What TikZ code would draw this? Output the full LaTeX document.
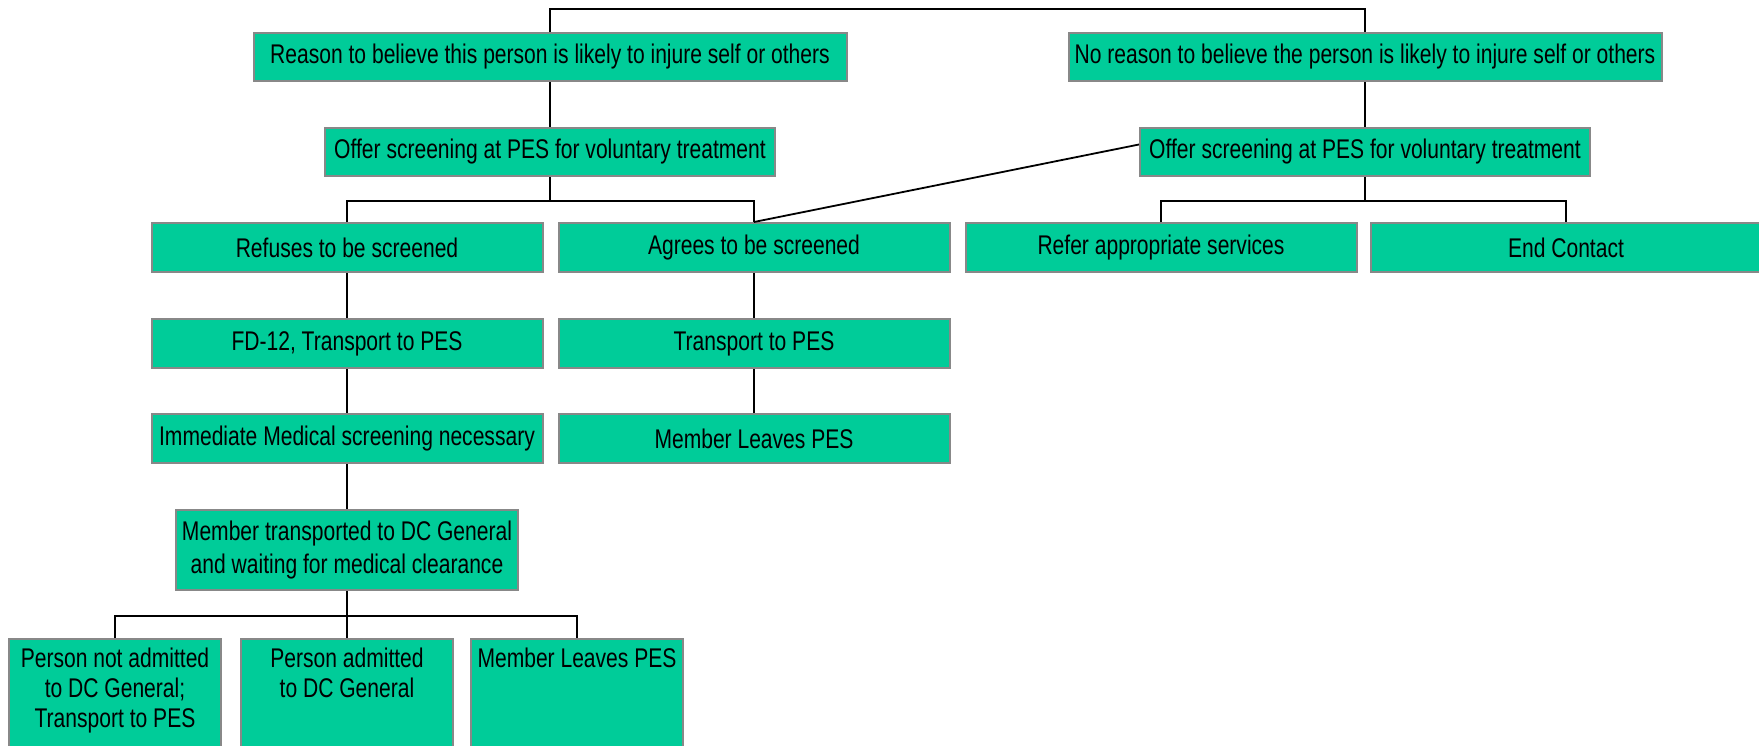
\documentclass[tikz,border=0pt]{standalone}
\usepackage{fontspec}
\setmainfont[FakeStretch=0.78]{Liberation Sans}
\usetikzlibrary{calc}
\definecolor{boxgreen}{RGB}{0,204,153}
\definecolor{boxedge}{RGB}{136,136,136}
\begin{document}
\begin{tikzpicture}[x=1pt,y=-1pt,
  box/.style={draw=boxedge, line width=2pt, fill=boxgreen, inner sep=0pt,
    font=\fontsize{27}{33}\selectfont, align=center},
  wide/.style={box, minimum width=593, minimum height=48},
  offer/.style={box, minimum width=450, minimum height=48},
  mid/.style={box, minimum width=391, minimum height=49},
  low/.style={box, minimum width=212, minimum height=125, anchor=north},
  lowtxt/.style={inner sep=0pt, anchor=north, align=center, font=\fontsize{27}{30}\selectfont},
  conn/.style={draw=black, line width=1.8pt}]
\useasboundingbox (0,0) rectangle (1759,745);
\clip (0,0) rectangle (1759,745);

% row 1
\node[wide] (r1) at (550,57) {Reason to believe this person is likely to injure self or others};
\node[wide] (n1) at (1365,57) {No reason to believe the person is likely to injure self or others};
% row 2
\node[offer] (oL) at (550,152) {Offer screening at PES for voluntary treatment};
\node[offer] (oR) at (1365,152) {Offer screening at PES for voluntary treatment};
% row 3
\node[mid] (ref) at (347,247.5) {Refuses to be screened};
\node[mid] (agr) at (754,247.5) {Agrees to be screened};
\node[mid] (refer) at (1161,247.5) {Refer appropriate services};
\node[mid] (endc) at (1566,247.5) {End Contact};
% row 4
\node[mid] (fd) at (347,343.5) {FD-12, Transport to PES};
\node[mid] (tr) at (754,343.5) {Transport to PES};
% row 5
\node[mid] (imm) at (347,438.5) {Immediate Medical screening necessary};
\node[mid] (mlp) at (754,438.5) {Member Leaves PES};
% row 6
\node[box, minimum width=342, minimum height=80] (mt) at (347,550) {Member transported to DC General\\and waiting for medical clearance};
% row 7
\node[low] (b1) at (115,638) {};
\node[low] (b2) at (347,638) {};
\node[low] (b3) at (577,638) {};
\node[lowtxt] (b1t) at ([yshift=-10pt]b1.north) {Person not admitted\\to DC General;\\Transport to PES};
\node[lowtxt] (b2t) at ([yshift=-10pt]b2.north) {Person admitted\\to DC General};
\node[lowtxt] (b3t) at ([yshift=-10pt]b3.north) {Member Leaves PES};

% connectors
\coordinate (top) at (958,9);
\draw[conn] (r1.north) |- (top) -| (n1.north);
\draw[conn] (r1) -- (oL);
\draw[conn] (n1) -- (oR);
\draw[conn] (oL.south) -- ++(0,24) coordinate (j1);
\draw[conn] (ref.north) |- (j1) -| (agr.north);
\draw[conn] ($(oR.north west)!0.35!(oR.south west)$) -- (agr.north);
\draw[conn] (oR.south) -- ++(0,24) coordinate (j2);
\draw[conn] (refer.north) |- (j2) -| (endc.north);
\draw[conn] (ref) -- (fd);
\draw[conn] (fd) -- (imm);
\draw[conn] (imm) -- (mt);
\draw[conn] (agr) -- (tr);
\draw[conn] (tr) -- (mlp);
\draw[conn] (mt.south) -- ++(0,25) coordinate (j3);
\draw[conn] (b1.north) |- (j3) -| (b3.north);
\draw[conn] (j3) -- (b2.north);
\end{tikzpicture}
\end{document}
